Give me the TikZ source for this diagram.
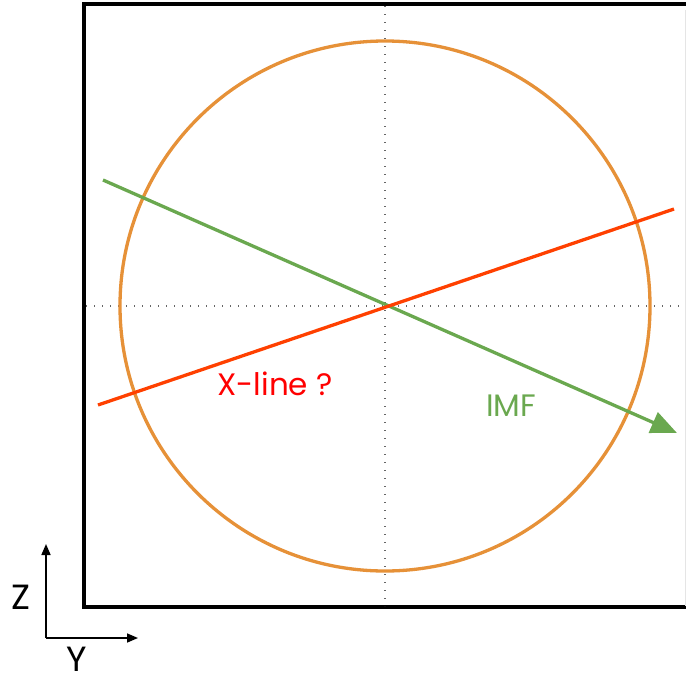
\documentclass[tikz,border=0pt]{standalone}
\usepackage{fontspec}
\setmainfont{Poppins}
\usetikzlibrary{arrows.meta}
\definecolor{orng}{RGB}{230,145,56}
\definecolor{grn}{RGB}{106,168,79}
\definecolor{redl}{RGB}{255,64,0}
\definecolor{redt}{RGB}{255,0,0}
\tikzset{
  guide/.style={draw=black!60,line width=1.3pt,dash pattern=on 1.3pt off 6.7pt},
  thick3/.style={line width=3.3pt},
  axisarrow/.style={line width=1.6pt,-{Triangle[length=11pt,width=9pt]}},
  lbl/.style={font=\fontsize{31}{35}\selectfont,inner sep=0pt},
  axlbl/.style={font=\fontsize{35}{40}\selectfont,inner sep=0pt}
}
\begin{document}
\begin{tikzpicture}[x=1pt,y=-1pt]
\useasboundingbox (0,0) rectangle (686,675);
\begin{scope}
\clip (0,0) rectangle (686,675);
\draw[line width=3.3pt] (84,4) rectangle (700,607);
\end{scope}
\draw[black!10,line width=1pt] (685.5,10) -- (685.5,606);
\coordinate (vt) at (385,6);
\coordinate (vb) at (385,606);
\coordinate (hl) at (86,306);
\coordinate (hr) at (686,306);
\draw[guide] (vt) -- (vb);
\draw[guide] (hl) -- (hr);
\coordinate (c) at (385,306);
\draw[orng,thick3] (c) circle (265);
\coordinate (gs) at (103,180);
\coordinate (ge) at (677,433);
\draw[grn,thick3,-{Triangle[length=26pt,width=22pt]}] (gs) -- (ge);
\coordinate (rs) at (98,405);
\coordinate (re) at (674,209);
\draw[redl,thick3] (rs) -- (re);
\node[lbl,text=redt] (xl) at (275,384) {X-line ?};
\node[lbl,text=grn] (imf) at (511,406) {IMF};
\coordinate (o) at (46,638);
\coordinate (zt) at (46,544);
\coordinate (yt) at (138,638);
\draw[axisarrow] (o) -- (zt);
\draw[axisarrow] (o) -- (yt);
\node[axlbl] (z) at (21,597) {Z};
\node[axlbl] (y) at (77,659) {Y};
\end{tikzpicture}
\end{document}
